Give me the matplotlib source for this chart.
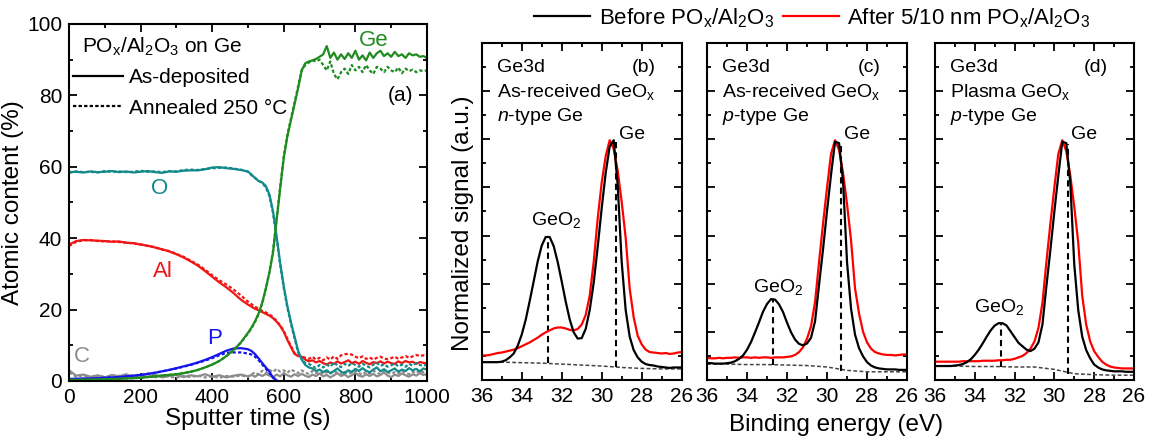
import matplotlib
matplotlib.use('Agg')
import matplotlib.pyplot as plt
from matplotlib.ticker import MultipleLocator, NullFormatter
from matplotlib.lines import Line2D

plt.rcParams['font.family'] = ['Liberation Sans', 'DejaVu Sans']
plt.rcParams['mathtext.fontset'] = 'custom'
plt.rcParams['mathtext.rm'] = 'Liberation Sans'
plt.rcParams['mathtext.it'] = 'Liberation Sans:italic'
plt.rcParams['mathtext.bf'] = 'Liberation Sans:bold'

# ---------------- Panel (a): depth profile ----------------
t_a = [0, 20, 40, 60, 80, 100, 120, 140, 160, 180, 200, 220, 240, 260, 280, 300, 320, 340, 360, 380,
       400, 420, 440, 460, 480, 500,
       510, 520, 530, 540, 550, 560, 570, 580, 590, 600,
       610, 620, 630, 640, 650, 660, 670, 680, 690, 700,
       710, 720, 730, 740, 750, 760, 770, 780, 790, 800,
       810, 820, 830, 840, 850, 860, 870, 880, 890, 900,
       910, 920, 930, 940, 950, 960, 970, 980, 990, 1000]

O_as = [58.5, 58.6, 58.4, 58.7, 58.5, 58.6, 58.8, 58.5, 58.7, 58.4, 58.6, 58.8, 58.5, 58.3, 58.7, 58.6,
        58.9, 59.0, 59.0, 59.3, 59.8, 59.9, 59.6, 59.4, 59.1, 58.7,
        57.8, 56.8, 56.0, 55.6, 54.6, 52.2, 47.5, 40.5, 33.0, 26.5,
        21.0, 16.5, 12.5, 8.5, 6.0, 4.5, 3.8, 3.5, 2.8, 3.2,
        2.5, 3.0, 2.2, 2.8, 3.5, 2.6, 2.2, 3.0, 2.5, 3.4,
        2.8, 3.6, 2.9, 2.4, 3.2, 3.8, 2.7, 3.3, 2.5, 3.0,
        3.5, 2.6, 3.2, 2.8, 3.6, 3.0, 3.4, 2.7, 3.5, 3.2]
O_an = [58.3, 58.7, 58.5, 58.6, 58.4, 58.8, 58.6, 58.7, 58.5, 58.6, 58.9, 58.6, 58.7, 58.5, 58.8, 58.7,
        59.1, 59.2, 59.1, 59.4, 59.6, 59.7, 59.8, 59.5, 59.2, 58.6,
        57.6, 56.9, 56.1, 55.4, 54.2, 51.8, 47.0, 40.0, 32.5, 26.0,
        20.5, 16.0, 12.0, 8.0, 6.2, 5.0, 4.8, 4.2, 3.6, 4.5,
        3.8, 4.6, 4.0, 5.2, 4.4, 3.9, 4.8, 4.2, 5.0, 4.5,
        4.0, 4.8, 4.3, 3.8, 4.6, 5.1, 4.2, 4.7, 4.0, 4.4,
        4.9, 4.1, 4.6, 4.0, 4.8, 4.3, 5.0, 4.5, 4.2, 4.7]

Ge_as = [0.3, 0.3, 0.3, 0.4, 0.4, 0.5, 0.5, 0.6, 0.7, 0.8, 0.9, 1.1, 1.3, 1.5, 1.7, 1.9,
         2.2, 2.6, 3.1, 3.8, 4.6, 5.6, 7.0, 8.7, 10.8, 13.5,
         15.0, 16.8, 19.0, 22.0, 26.0, 30.5, 36.0, 45.0, 54.0, 62.5,
         68.5, 73.0, 77.5, 82.0, 87.0, 89.0, 89.5, 89.8, 90.2, 90.8,
         91.5, 93.8, 90.5, 92.0, 90.0, 91.5, 90.2, 91.8, 90.5, 92.5,
         90.0, 91.2, 89.8, 92.0, 90.5, 91.8, 92.5, 91.0, 91.8, 90.8,
         92.2, 91.0, 91.5, 90.5, 91.8, 91.2, 91.5, 90.8, 91.0, 90.5]
Ge_an = [0.3, 0.3, 0.4, 0.4, 0.5, 0.5, 0.6, 0.6, 0.7, 0.8, 0.9, 1.1, 1.3, 1.5, 1.7, 1.9,
         2.2, 2.6, 3.1, 3.8, 4.6, 5.6, 7.0, 8.6, 10.7, 13.3,
         14.8, 16.6, 18.8, 21.8, 25.8, 30.5, 36.5, 45.5, 54.5, 63.0,
         69.0, 73.5, 78.0, 82.5, 87.0, 88.5, 89.2, 89.8, 89.5, 90.0,
         88.5, 87.0, 89.5, 86.0, 84.5, 86.5, 87.5, 86.0, 88.5, 87.0,
         88.0, 86.5, 88.5, 87.0, 86.0, 88.0, 87.5, 86.5, 88.0, 87.0,
         86.5, 87.8, 86.2, 87.5, 86.8, 87.2, 86.5, 87.0, 86.8, 87.0]

Al_as = [38.2, 39.2, 39.5, 39.4, 39.3, 39.2, 39.0, 39.1, 38.7, 38.6, 38.2, 37.9, 37.4, 36.9, 36.3, 35.5,
         34.6, 33.5, 32.3, 30.8, 29.2, 27.6, 26.2, 24.6, 22.8, 21.4,
         20.8, 20.2, 19.8, 19.3, 18.8, 18.3, 17.6, 16.6, 15.4, 13.8,
         11.5, 9.5, 7.6, 7.0, 6.8, 6.0, 5.5, 5.8, 5.2, 5.6,
         5.0, 4.6, 5.2, 4.8, 5.5, 4.9, 5.3, 5.8, 5.0, 5.4,
         4.8, 5.6, 5.1, 4.7, 5.3, 5.0, 5.5, 4.9, 5.4, 5.0,
         4.8, 5.5, 5.0, 5.6, 5.2, 5.4, 4.8, 5.3, 5.1, 4.9]
Al_an = [37.8, 39.0, 39.4, 39.5, 39.2, 39.1, 39.1, 38.9, 38.8, 38.5, 38.3, 37.8, 37.5, 36.8, 36.4, 35.6,
         34.8, 33.7, 32.6, 31.2, 29.6, 28.2, 27.0, 25.6, 24.0, 22.2,
         21.5, 20.8, 20.2, 19.6, 19.2, 18.6, 17.9, 16.8, 15.6, 14.0,
         11.8, 9.8, 7.8, 7.2, 6.9, 6.5, 6.2, 6.8, 6.0, 6.5,
         5.8, 6.6, 6.0, 6.9, 6.2, 7.2, 7.5, 7.6, 7.4, 6.8,
         6.4, 6.9, 6.2, 6.6, 6.0, 6.5, 6.8, 6.3, 6.1, 6.4,
         6.8, 6.2, 6.6, 7.0, 6.5, 6.9, 7.3, 7.0, 7.2, 6.8]

P_as = [0.6, 0.6, 0.7, 0.7, 0.8, 0.9, 1.0, 1.1, 1.3, 1.5, 1.7, 2.0, 2.3, 2.7, 3.1, 3.6,
        4.1, 4.6, 5.2, 5.9, 6.7, 7.6, 8.5, 9.1, 9.2, 8.9,
        8.4, 7.5, 6.3, 5.0, 3.8, 2.6, 0.9, 0.2]
P_an = [0.5, 0.6, 0.6, 0.7, 0.8, 0.9, 1.0, 1.1, 1.3, 1.5, 1.7, 2.0, 2.3, 2.7, 3.1, 3.5,
        4.0, 4.5, 5.1, 5.7, 6.4, 7.2, 7.9, 8.0, 8.0, 7.7,
        7.4, 6.8, 5.8, 4.6, 3.4, 2.2, 1.0, 0.3]

C_as = [3.0, 1.5, 1.8, 1.2, 1.6, 1.0, 1.7, 1.3, 1.9, 1.1, 1.5, 1.2, 1.8, 1.0, 1.4, 1.7,
        1.1, 1.6, 1.3, 1.9, 1.2, 1.6, 1.0, 1.5, 1.8, 1.3,
        1.7, 1.2, 1.9, 1.4, 2.0, 1.5, 1.1, 1.8, 1.3, 2.2,
        1.6, 1.2, 1.9, 1.4, 2.0, 1.5, 1.1, 1.8, 1.4, 2.1,
        1.3, 1.7, 1.0, 1.6, 2.2, 1.4, 1.8, 1.1, 1.6, 2.3,
        1.5, 1.2, 1.9, 1.4, 2.0, 1.3, 1.7, 2.4, 1.5, 1.1,
        1.8, 1.4, 2.1, 1.6, 1.2, 1.9, 1.5, 2.2, 1.7, 1.9]
C_an = [2.4, 1.2, 1.6, 0.9, 1.4, 1.2, 0.8, 1.5, 1.1, 1.4, 0.9, 1.3, 1.0, 1.6, 1.2, 0.9,
        1.4, 1.1, 1.5, 1.0, 1.3, 0.9, 1.4, 1.2, 1.6, 1.1,
        1.9, 2.4, 1.8, 2.9, 2.2, 3.1, 2.5, 3.4, 2.6, 3.0,
        2.3, 3.2, 2.7, 2.2, 3.0, 2.4, 2.0, 2.8, 2.2, 2.6,
        1.9, 2.5, 2.1, 2.8, 2.3, 1.8, 2.6, 2.0, 2.4, 2.9,
        2.2, 1.8, 2.6, 2.1, 2.9, 2.3, 1.9, 2.7, 2.4, 2.0,
        2.5, 2.1, 2.8, 2.3, 1.9, 2.6, 2.2, 3.0, 2.4, 2.7]

# ---------------- Panels (b)-(d): Ge3d spectra ----------------
be = [36.0, 35.8, 35.6, 35.4, 35.2, 35.0, 34.8, 34.6, 34.4, 34.2,
      34.0, 33.8, 33.6, 33.4, 33.2, 33.0, 32.8, 32.6, 32.4, 32.2,
      32.0, 31.8, 31.6, 31.4, 31.2, 31.0, 30.8, 30.6, 30.4, 30.2,
      30.0, 29.8, 29.6, 29.4, 29.2, 29.0, 28.8, 28.6, 28.4, 28.2,
      28.0, 27.8, 27.6, 27.4, 27.2, 27.0, 26.8, 26.6, 26.4, 26.2, 26.0]

before_b = [0.37, 0.37, 0.37, 0.37, 0.37, 0.38, 0.41, 0.47, 0.55, 0.71,
            0.94, 1.25, 1.64, 2.05, 2.46, 2.79, 2.97, 2.97, 2.78, 2.45,
            2.05, 1.63, 1.26, 0.99, 0.86, 0.87, 1.06, 1.45, 2.02, 2.76,
            3.57, 4.30, 4.85, 4.98, 4.05, 2.45, 1.45, 0.90, 0.62, 0.47,
            0.38, 0.33, 0.31, 0.30, 0.28, 0.27, 0.26, 0.25, 0.26, 0.26, 0.26]
after_b = [0.51, 0.51, 0.52, 0.54, 0.56, 0.57, 0.59, 0.61, 0.63, 0.66,
           0.70, 0.74, 0.78, 0.83, 0.88, 0.94, 0.99, 1.03, 1.07, 1.09,
           1.09, 1.07, 1.04, 1.03, 1.06, 1.15, 1.35, 1.75, 2.45, 3.35,
           4.10, 4.65, 4.98, 4.80, 4.35, 3.70, 2.95, 1.90, 1.30, 0.92,
           0.74, 0.63, 0.58, 0.57, 0.56, 0.55, 0.56, 0.54, 0.55, 0.57, 0.58]
before_c = [0.35, 0.35, 0.34, 0.34, 0.34, 0.35, 0.36, 0.39, 0.44, 0.51,
            0.63, 0.79, 0.99, 1.20, 1.42, 1.58, 1.68, 1.67, 1.57, 1.41,
            1.19, 0.99, 0.84, 0.75, 0.72, 0.76, 0.88, 1.22, 1.98, 2.72,
            3.52, 4.27, 4.95, 4.92, 4.12, 2.44, 1.48, 0.94, 0.66, 0.49,
            0.37, 0.30, 0.26, 0.24, 0.23, 0.22, 0.22, 0.22, 0.21, 0.21, 0.21]
after_c = [0.46, 0.45, 0.45, 0.46, 0.45, 0.46, 0.46, 0.47, 0.46, 0.47,
           0.47, 0.46, 0.47, 0.46, 0.47, 0.47, 0.46, 0.47, 0.47, 0.47,
           0.48, 0.49, 0.52, 0.58, 0.68, 0.86, 1.12, 1.62, 2.45, 3.25,
           4.00, 4.70, 4.98, 4.78, 4.30, 3.65, 2.90, 1.90, 1.38, 1.00,
           0.78, 0.65, 0.58, 0.55, 0.53, 0.52, 0.52, 0.51, 0.52, 0.53, 0.53]
before_d = [0.29, 0.29, 0.29, 0.29, 0.29, 0.30, 0.31, 0.33, 0.37, 0.43,
            0.52, 0.63, 0.76, 0.90, 1.03, 1.13, 1.18, 1.18, 1.13, 1.01,
            0.89, 0.77, 0.70, 0.63, 0.60, 0.65, 0.78, 1.15, 1.95, 2.70,
            3.50, 4.25, 4.95, 4.92, 4.10, 2.40, 1.45, 0.90, 0.62, 0.45,
            0.32, 0.26, 0.22, 0.20, 0.19, 0.18, 0.18, 0.18, 0.17, 0.17, 0.17]
after_d = [0.38, 0.38, 0.38, 0.38, 0.38, 0.38, 0.38, 0.39, 0.39, 0.39,
           0.39, 0.39, 0.40, 0.40, 0.40, 0.40, 0.41, 0.41, 0.42, 0.42,
           0.44, 0.47, 0.50, 0.56, 0.65, 0.80, 1.08, 1.60, 2.45, 3.25,
           4.00, 4.70, 4.98, 4.75, 4.25, 3.60, 2.85, 1.75, 1.15, 0.80,
           0.60, 0.48, 0.38, 0.32, 0.28, 0.26, 0.25, 0.24, 0.24, 0.24, 0.24]

be_bg = [36, 35, 34, 33, 32, 31, 30, 29, 28, 27, 26]
bg_b = [0.38, 0.37, 0.36, 0.35, 0.33, 0.31, 0.29, 0.26, 0.24, 0.23, 0.23]
bg_c = [0.33, 0.33, 0.32, 0.32, 0.31, 0.30, 0.27, 0.20, 0.17, 0.17, 0.17]
bg_d = [0.29, 0.29, 0.28, 0.28, 0.27, 0.27, 0.22, 0.13, 0.11, 0.10, 0.10]

peak_pos = [32.7, 29.3]
peak_top_b = [2.98, 4.95]
peak_bot_b = [0.35, 0.27]
peak_top_c = [1.68, 4.95]
peak_bot_c = [0.32, 0.19]
peak_top_d = [1.18, 4.90]
peak_bot_d = [0.28, 0.12]

panel_lines = [
    ['Ge3d', 'As-received GeO$_\\mathregular{x}$', '$\\mathit{n}$-type Ge'],
    ['Ge3d', 'As-received GeO$_\\mathregular{x}$', '$\\mathit{p}$-type Ge'],
    ['Ge3d', 'Plasma GeO$_\\mathregular{x}$', '$\\mathit{p}$-type Ge'],
]
panel_tags = ['(b)', '(c)', '(d)']
geo2_label_pos = [(32.3, 3.12), (32.45, 1.72), (32.8, 1.30)]

# ---------------- styles ----------------
TEAL = '#138a8a'
RED = '#f21515'
BLUE = '#1515ee'
GREEN = '#1f8c1f'
GRAY = '#8c8c8c'
LW = 1.6
DOT = (0, (1.5, 1.0))

fig = plt.figure(figsize=(11.51, 4.40), dpi=100)

def style_axes(ax):
    for s in ax.spines.values():
        s.set_linewidth(1.5)
    ax.tick_params(which='both', direction='in', top=True, right=True, width=1.3,
                   labelsize=15, pad=5)
    ax.tick_params(which='major', length=5.5)
    ax.tick_params(which='minor', length=3)

# Panel (a)
ax = fig.add_axes([0.05995, 0.1341, 0.3110, 0.8114])
tP = t_a[:len(P_as)]
series = [(C_as, C_an, t_a, GRAY), (P_as, P_an, tP, BLUE), (Al_as, Al_an, t_a, RED),
          (O_as, O_an, t_a, TEAL), (Ge_as, Ge_an, t_a, GREEN)]
for ys, yd, tt, col in series:
    ax.plot(tt, yd, color=col, lw=LW, ls=DOT)
    ax.plot(tt, ys, color=col, lw=LW)
ax.set_xlim(0, 1000)
ax.set_ylim(0, 100)
ax.xaxis.set_major_locator(MultipleLocator(200))
ax.xaxis.set_minor_locator(MultipleLocator(100))
ax.yaxis.set_major_locator(MultipleLocator(20))
ax.yaxis.set_minor_locator(MultipleLocator(10))
style_axes(ax)
ax.set_xlabel('Sputter time (s)', fontsize=17.5, labelpad=1)
ax.set_ylabel('Atomic content (%)', fontsize=17.5, labelpad=2)
ax.text(0.036, 0.935, 'PO$_\\mathregular{x}$/Al$_\\mathregular{2}$O$_\\mathregular{3}$ on Ge',
        transform=ax.transAxes, fontsize=15, va='center', ha='left')
hs = [Line2D([], [], color='k', lw=LW), Line2D([], [], color='k', lw=LW, ls=DOT)]
ax.legend(hs, ['As-deposited', 'Annealed 250 °C'], loc='upper left',
          bbox_to_anchor=(0.012, 0.876), frameon=False, fontsize=15, handlelength=2.4,
          handletextpad=0.25, labelspacing=0.55, borderpad=0, borderaxespad=0)
ax.text(925, 80, '(a)', fontsize=15, ha='center', va='center')
ax.text(850, 95.5, 'Ge', color=GREEN, fontsize=16, ha='center', va='center')
ax.text(252, 54, 'O', color=TEAL, fontsize=16, ha='center', va='center')
ax.text(261, 30.7, 'Al', color=RED, fontsize=16, ha='center', va='center')
ax.text(408, 11.8, 'P', color=BLUE, fontsize=16, ha='center', va='center')
ax.text(35, 7.0, 'C', color=GRAY, fontsize=16, ha='center', va='center')

# Panels (b)-(d)
lefts = [0.4185, 0.6143, 0.8123]
widths = [0.17376, 0.17376, 0.1729]
befores = [before_b, before_c, before_d]
afters = [after_b, after_c, after_d]
bgs = [bg_b, bg_c, bg_d]
tops = [peak_top_b, peak_top_c, peak_top_d]
bots = [peak_bot_b, peak_bot_c, peak_bot_d]
axs = []
for i in range(3):
    axp = fig.add_axes([lefts[i], 0.1364, widths[i], 0.7659])
    axs.append(axp)
    axp.plot(be_bg, bgs[i], color='#444444', lw=1.1, ls=(0, (2.5, 1.5)))
    for k in range(2):
        axp.plot([peak_pos[k], peak_pos[k]], [bots[i][k], tops[i][k]], color='k',
                 lw=1.5, ls=(0, (3, 2)))
    axp.plot(be, afters[i], color='#ff0000', lw=LW)
    axp.plot(be, befores[i], color='k', lw=LW)
    axp.set_xlim(36, 26)
    axp.set_ylim(0, 7)
    axp.xaxis.set_major_locator(MultipleLocator(2))
    axp.xaxis.set_minor_locator(MultipleLocator(1))
    axp.yaxis.set_major_locator(MultipleLocator(1))
    axp.yaxis.set_minor_locator(MultipleLocator(0.5))
    axp.yaxis.set_major_formatter(NullFormatter())
    style_axes(axp)
    for j, line in enumerate(panel_lines[i]):
        axp.text(0.075, 0.926 - j * 0.072, line, transform=axp.transAxes, fontsize=14,
                 ha='left', va='center')
    axp.text(0.87, 0.926, panel_tags[i], transform=axp.transAxes, fontsize=14,
             ha='right', va='center')
    axp.text(29.15, 5.1, 'Ge', fontsize=14, ha='left', va='center')
    gx, gy = geo2_label_pos[i]
    axp.text(gx, gy, 'GeO$_\\mathregular{2}$', fontsize=14, ha='center', va='bottom')

axs[0].set_ylabel('Normalized signal (a.u.)', fontsize=17.5)
axs[0].yaxis.set_label_coords(-0.04, 0.466)
fig.text(0.726, 0.034, 'Binding energy (eV)', fontsize=17.5, ha='center', va='center')

lh = [Line2D([], [], color='k', lw=LW), Line2D([], [], color='#ff0000', lw=LW)]
fig.legend(lh, ['Before PO$_\\mathregular{x}$/Al$_\\mathregular{2}$O$_\\mathregular{3}$',
                'After 5/10 nm PO$_\\mathregular{x}$/Al$_\\mathregular{2}$O$_\\mathregular{3}$'],
           loc='center', bbox_to_anchor=(0.706, 0.959), ncol=2, frameon=False, fontsize=16,
           handlelength=2.5, handletextpad=0.4, columnspacing=0.4, borderpad=0)

fig.savefig('out.png', dpi=100)
